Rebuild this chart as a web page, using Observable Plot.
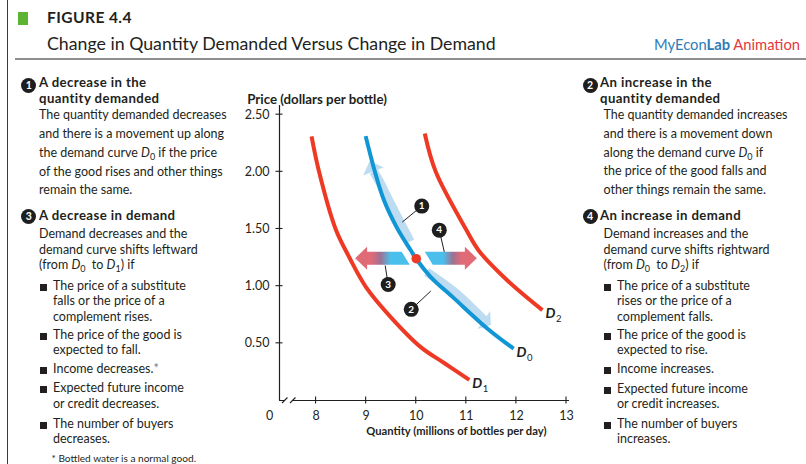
<!DOCTYPE html>
<html>
<head>
<meta charset="utf-8">
<script src="https://cdn.jsdelivr.net/npm/d3@7"></script>
<script src="https://cdn.jsdelivr.net/npm/@observablehq/plot@0.6"></script>
<style>
html, body { margin: 0; padding: 0; background: #fff; }
#page { position: relative; width: 806px; height: 464px; overflow: hidden; font-family: Lato, "Open Sans", sans-serif; color: #231f20; }
.ln { position: absolute; white-space: nowrap; line-height: 1; }
.h { font-weight: 700; letter-spacing: 0.4px; }
.ln i { font-style: italic; }
.ln sub { font-size: 0.72em; vertical-align: -0.3em; line-height: 0; }
.num { position: absolute; width: 15px; height: 15px; border-radius: 50%; background: #1e1e1e; color: #fff; font-weight: 700; font-size: 10.5px; text-align: center; line-height: 15px; }
.sq { position: absolute; width: 7px; height: 7px; background: #231f20; }
#chart { position: absolute; left: 200px; top: 70px; }
</style>
</head>
<body>
<div id="page"></div>
<script>
// ---------- chart values ----------
const priceTicks = [0.5, 1.0, 1.5, 2.0, 2.5];
const quantityTicks = [8, 9, 10, 11, 12, 13];

// D0 (original demand curve)
const d0Quantity = [8.99, 9.176, 9.356, 9.624, 9.89, 10.004, 10.29, 10.756, 11.424, 11.944];
const d0Price    = [2.312, 1.999, 1.751, 1.503, 1.314, 1.235, 1.08, 0.893, 0.628, 0.453];
// D1 (decrease in demand)
const d1Quantity = [7.91, 8.06, 8.39, 8.66, 9.00, 9.49, 10.09, 10.55, 11.06];
const d1Price    = [2.31, 2.00, 1.50, 1.255, 0.99, 0.73, 0.467, 0.33, 0.18];
// D2 (increase in demand)
const d2Quantity = [10.17, 10.39, 10.99, 11.25, 11.82, 12.52];
const d2Price    = [2.335, 2.00, 1.50, 1.31, 1.05, 0.79];

// starting point on D0
const pointQuantity = [10.0];
const pointPrice = [1.24];

// movement along D0: band centre points, last one is the arrow tip
const upMoveQuantity = [9.89, 9.49, 9.256, 9.156, 9.076];
const upMovePrice    = [1.386, 1.722, 1.926, 1.999, 2.087];
const downMoveQuantity = [10.22, 10.76, 11.16, 11.36, 11.50];
const downMovePrice    = [1.12, 0.948, 0.788, 0.70, 0.657];

// shifts of demand (horizontal arrows at the starting price)
const shiftFrom = [9.80, 10.26];
const shiftTo   = [8.79, 11.22];

// numbered callouts
const calloutLabels = ["1", "2", "3", "4"];
const calloutQuantity = [10.11, 9.90, 9.44, 10.46];
const calloutPrice    = [1.70, 0.797, 1.015, 1.49];
const leaderQuantity  = [9.72, 10.29, 9.38, 10.56];
const leaderPrice     = [1.56, 0.957, 1.18, 1.30];

// curve labels
const curveNames = ["0", "1", "2"];

// axis extent
const xOrigin = 7.27, xEnd = 13.06, yTop = 2.58;

// ---------- styles ----------
const ink = "#231f20", red = "#ee3a24", blue = "#1196d5", pale = "#bddcf2";
const shiftBlue = "#4bbfeb", shiftMid = "#9d7293", shiftRed = "#e16a77";

const ctx = document.createElement("canvas").getContext("2d");
function fit(text, weight, target, style = "normal") {
  ctx.font = `${style} ${weight} 100px Lato`;
  return 100 * target / ctx.measureText(text).width;
}
const fsBody = fit("The quantity demanded decreases", 400, 188);
const fsHead = Math.min(13.2, fit("quantity demanded", 700, 124));
const fsFoot = fit("* Bottled water is a normal good.", 400, 145);
const fsTitle = fit("Change in Quantity Demanded Versus Change in Demand", 400, 450);
const fsFig = fit("FIGURE 4.4", 700, 81);
const fsBrand = fit("MyEconLab Animation", 400, 146);
const fsTick = 12.5;
const fsAxisY = fit("Price (dollars per bottle)", 700, 140);
const fsAxisX = fit("Quantity (millions of bottles per day)", 700, 181);

// ---------- page text ----------
const page = document.getElementById("page");
function el(cls, html, css) {
  const d = document.createElement("div");
  d.className = cls;
  d.innerHTML = html;
  Object.assign(d.style, css);
  page.appendChild(d);
  return d;
}
function line(html, x, yc, size, bold) {
  el("ln" + (bold ? " h" : ""), html, {left: x + "px", top: (yc - 0.56 * size) + "px", fontSize: size + "px"});
}

// frame
el("", "", {position: "absolute", left: "7px", top: "0px", width: "1.4px", height: "464px", background: "#3a3a3a"});
el("", "", {position: "absolute", left: "15px", top: "58px", width: "791px", height: "2px", background: "#8e8e8e"});
el("", "", {position: "absolute", left: "18px", top: "12px", width: "10px", height: "13px", background: "#5db332"});
line("FIGURE 4.4", 47, 18.5, fsFig, true);
line("Change in Quantity Demanded Versus Change in Demand", 47, 45, fsTitle, false);
el("ln", "<span style='color:#2f7db6'>MyEcon</span><span style='color:#2f7db6;font-weight:700'>Lab</span> <span style='color:#e5373c'>Animation</span>",
  {right: "6px", top: (45 - 0.56 * fsBrand) + "px", fontSize: fsBrand + "px"});

function block(items, hx, bx, sqx, tx, fx) {
  for (const [kind, html, yc] of items) {
    if (kind === "h") line(html, hx, yc, fsHead, true);
    else if (kind === "b") line(html, bx, yc, fsBody, false);
    else if (kind === "u") {
      el("sq", "", {left: sqx + "px", top: (yc - 3.5) + "px"});
      line(html, tx, yc, fsBody, false);
    } else if (kind === "c") line(html, tx, yc, fsBody, false);
    else if (kind === "f") line(html, fx, yc, fsFoot, false);
  }
}
const D = n => `<i>D</i><sub>${n}</sub>`;
block([
  ["h", "A decrease in the", 83.3], ["h", "quantity demanded", 99.2],
  ["b", "The quantity demanded decreases", 116], ["b", "and there is a movement up along", 135],
  ["b", `the demand curve ${D(0)} if the price`, 154], ["b", "of the good rises and other things", 173],
  ["b", "remain the same.", 191.5],
  ["h", "A decrease in demand", 216],
  ["b", "Demand decreases and the", 235.5], ["b", "demand curve shifts leftward", 251],
  ["b", `(from ${D(0)}&nbsp; to ${D(1)}) if`, 266.5],
  ["u", "The price of a substitute", 287.5], ["c", "falls or the price of a", 302.5], ["c", "complement rises.", 318],
  ["u", "The price of the good is", 336], ["c", "expected to fall.", 351.5],
  ["u", "Income decreases.<span style='color:#777'>*</span>", 370.5],
  ["u", "Expected future income", 389.5], ["c", "or credit decreases.", 405],
  ["u", "The number of buyers", 425], ["c", "decreases.", 440.5],
  ["f", "* Bottled water is a normal good.", 458.5]
], 39, 39, 39.5, 53, 51.5);
block([
  ["h", "An increase in the", 83.3], ["h", "quantity demanded", 99.2],
  ["b", "The quantity demanded increases", 116], ["b", "and there is a movement down", 135],
  ["b", `along the demand curve ${D(0)} if`, 154], ["b", "the price of the good falls and", 172.5],
  ["b", "other things remain the same.", 191],
  ["h", "An increase in demand", 216],
  ["b", "Demand increases and the", 235.5], ["b", "demand curve shifts rightward", 251],
  ["b", `(from ${D(0)}&nbsp; to ${D(2)}) if`, 266],
  ["u", "The price of a substitute", 287], ["c", "rises or the price of a", 302.5], ["c", "complement falls.", 318],
  ["u", "The price of the good is", 336], ["c", "expected to rise.", 351],
  ["u", "Income increases.", 370.5],
  ["u", "Expected future income", 390], ["c", "or credit increases.", 405],
  ["u", "The number of buyers", 425.5], ["c", "increases.", 440.5]
], 600, 603.5, 603.5, 617, 0);

// heading markers
[["1", 28.7, 85.5], ["3", 28.7, 216], ["2", 590, 85.5], ["4", 590, 216]].forEach(([n, cx, cy]) =>
  el("num", n, {left: (cx - 7.5) + "px", top: (cy - 7.5) + "px"}));

// ---------- chart ----------
const rows = (qs, ps) => qs.map((q, i) => ({q, p: ps[i]}));
const d0 = rows(d0Quantity, d0Price), d1 = rows(d1Quantity, d1Price), d2 = rows(d2Quantity, d2Price);
const callouts = calloutLabels.map((t, i) => ({t, q: calloutQuantity[i], p: calloutPrice[i], lq: leaderQuantity[i], lp: leaderPrice[i]}));
const curveEnds = [d0[d0.length - 1], d1[d1.length - 1], d2[d2.length - 1]].map((d, i) => ({...d, n: curveNames[i]}));

function axisDetails(index, {x, y}) {
  const g = d3.create("svg:g").attr("stroke", ink).attr("stroke-width", 1.1);
  const x0 = x(xOrigin), y0 = y(0);
  for (const v of priceTicks) g.append("line").attr("x1", x0 - 3.5).attr("x2", x0 + 3.5).attr("y1", y(v)).attr("y2", y(v));
  for (const v of quantityTicks) g.append("line").attr("y1", y0 - 3.5).attr("y2", y0 + 3.5).attr("x1", x(v)).attr("x2", x(v));
  g.append("line").attr("x1", x0 + 6).attr("x2", x0 + 13).attr("y1", y0).attr("y2", y0).attr("stroke", "#fff").attr("stroke-width", 3);
  g.append("line").attr("x1", x0 + 3).attr("y1", y0 + 3).attr("x2", x0 + 8.5).attr("y2", y0 - 2.5);
  g.append("line").attr("x1", x0 + 11).attr("y1", y0 + 3).attr("x2", x0 + 16.5).attr("y2", y0 - 2.5);
  return g.node();
}

function alongArrows(index, {x, y}) {
  const g = d3.create("svg:g");
  for (const [qs, ps] of [[upMoveQuantity, upMovePrice], [downMoveQuantity, downMovePrice]]) {
    const pts = qs.map((q, i) => [x(q), y(ps[i])]);
    const body = pts.slice(0, -1), tip = pts[pts.length - 1], base = body[body.length - 1];
    g.append("path").attr("d", d3.line().curve(d3.curveCatmullRom)(body))
      .attr("fill", "none").attr("stroke", pale).attr("stroke-width", 9);
    const dx = tip[0] - base[0], dy = tip[1] - base[1], L = Math.hypot(dx, dy);
    const nx = -dy / L, ny = dx / L, hw = 11;
    g.append("path").attr("d", `M${base[0] + nx * hw},${base[1] + ny * hw}L${tip[0]},${tip[1]}L${base[0] - nx * hw},${base[1] - ny * hw}Z`)
      .attr("fill", pale);
  }
  return g.node();
}

function shiftArrows(index, {x, y}) {
  const g = d3.create("svg:g");
  const defs = g.append("defs");
  const yy = y(pointPrice[0]), sh = 6.5, hh = 11.5, headLen = 12, s = 4;
  shiftFrom.forEach((from, i) => {
    const x0 = x(from), x1 = x(shiftTo[i]), dir = Math.sign(x1 - x0), hb = x1 - dir * headLen;
    const id = "shiftGrad" + i;
    const gr = defs.append("linearGradient").attr("id", id).attr("gradientUnits", "userSpaceOnUse")
      .attr("x1", x0).attr("x2", x1).attr("y1", 0).attr("y2", 0);
    [[0, shiftBlue], [0.3, shiftBlue], [0.5, shiftMid], [0.68, shiftRed], [1, shiftRed]]
      .forEach(([o, c]) => gr.append("stop").attr("offset", o).attr("stop-color", c));
    g.append("path").attr("fill", `url(#${id})`)
      .attr("d", `M${x0 - s},${yy - sh}L${hb},${yy - sh}L${hb},${yy - hh}L${x1},${yy}L${hb},${yy + hh}L${hb},${yy + sh}L${x0 + s},${yy + sh}Z`);
  });
  return g.node();
}

const chart = Plot.plot({
  width: 380, height: 394,
  marginLeft: 79, marginRight: 11, marginTop: 35, marginBottom: 64,
  x: {domain: [xOrigin, xEnd], axis: null},
  y: {domain: [0, yTop], axis: null},
  style: {fontFamily: "Lato, sans-serif", color: ink, background: "transparent", overflow: "visible"},
  marks: [
    Plot.ruleX([xOrigin], {y1: 0, y2: yTop, stroke: ink, strokeWidth: 1.2}),
    Plot.ruleY([0], {x1: xOrigin, x2: xEnd, stroke: ink, strokeWidth: 1.2}),
    axisDetails,
    Plot.text(priceTicks, {x: () => xOrigin, y: d => d, text: d => d.toFixed(2), textAnchor: "end", dx: -10, fontSize: fsTick, fill: ink}),
    Plot.text(quantityTicks, {x: d => d, y: () => 0, text: d => String(d), dy: 15, fontSize: fsTick, fill: ink}),
    Plot.text(["0"], {x: () => xOrigin, y: () => 0, text: d => d, dx: -10, dy: 15, fontSize: fsTick, fill: ink}),
    Plot.text(["Price (dollars per bottle)"], {frameAnchor: "top-left", text: d => d, textAnchor: "start", dx: -32.3, dy: -11, fontWeight: 700, fontSize: fsAxisY, fill: ink}),
    Plot.text(["Quantity (millions of bottles per day)"], {frameAnchor: "bottom-right", text: d => d, textAnchor: "end", dx: -23, dy: 34, fontWeight: 700, fontSize: fsAxisX, fill: ink}),
    Plot.line(d1, {x: "q", y: "p", stroke: red, strokeWidth: 4, curve: "catmull-rom", strokeLinecap: "butt"}),
    Plot.line(d2, {x: "q", y: "p", stroke: red, strokeWidth: 4, curve: "catmull-rom", strokeLinecap: "butt"}),
    alongArrows,
    Plot.line(d0, {x: "q", y: "p", stroke: blue, strokeWidth: 4, curve: "catmull-rom", strokeLinecap: "butt"}),
    shiftArrows,
    Plot.dot(pointQuantity.map((q, i) => ({q, p: pointPrice[i]})), {x: "q", y: "p", r: 4.8, fill: red, stroke: "none"}),
    Plot.text(curveEnds, {x: "q", y: "p", text: () => "D", textAnchor: "start", dx: 3, dy: 3.5, fontStyle: "italic", fontWeight: 700, fontSize: 14, fill: ink}),
    Plot.text(curveEnds, {x: "q", y: "p", text: "n", textAnchor: "start", dx: 13.5, dy: 9, fontWeight: 400, fontSize: 9.5, fill: ink}),
    Plot.link(callouts, {x1: "q", y1: "p", x2: "lq", y2: "lp", stroke: ink, strokeWidth: 1}),
    Plot.dot(callouts, {x: "q", y: "p", r: 7.5, fill: "#1e1e1e", stroke: "none"}),
    Plot.text(callouts, {x: "q", y: "p", text: "t", fill: "#fff", fontWeight: 700, fontSize: 10})
  ]
});
chart.id = "chart";
page.appendChild(chart);
</script>
</body>
</html>
